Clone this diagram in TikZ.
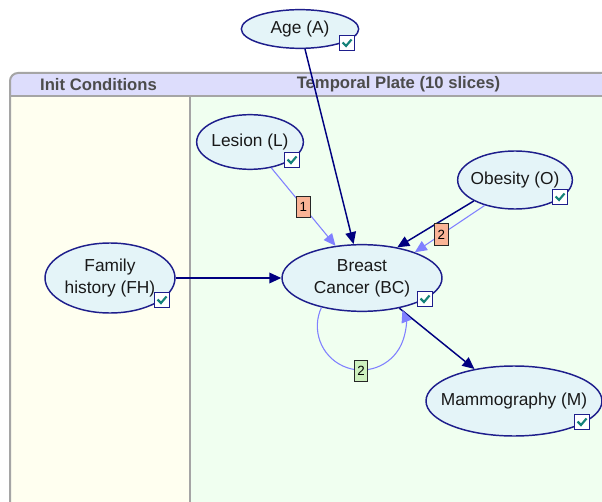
\documentclass[tikz,border=0pt]{standalone}
\usepackage{fontspec}
\setmainfont{Liberation Sans}
\usepackage{xcolor}
\usepackage{tikz}
\usetikzlibrary{positioning, shapes.geometric, arrows.meta}
\definecolor{dbnNavy}{RGB}{0, 0, 128}
\definecolor{dbnLight}{RGB}{128, 128, 255}
\definecolor{dbnEdge}{RGB}{30, 30, 140}
\definecolor{dbnNode}{RGB}{228, 244, 248}
\definecolor{dbnHead}{RGB}{221, 221, 252}
\definecolor{dbnGray}{RGB}{165, 165, 165}
\definecolor{dbnInit}{RGB}{255, 255, 240}
\definecolor{dbnTemp}{RGB}{240, 255, 240}
\definecolor{dbnOrange}{RGB}{250, 180, 150}
\definecolor{dbnGreen}{RGB}{205, 240, 190}
\definecolor{dbnTeal}{RGB}{20, 130, 120}

\begin{document}
\begin{tikzpicture}[x=0.75pt, y=0.75pt,
    var/.style={ellipse, draw=dbnEdge, fill=dbnNode, line width=1.1pt, inner sep=0pt},
    vartext/.style={align=center, inner sep=0pt, text=black!90, font=\fontsize{13}{16.5}\selectfont},
    head/.style={text=black!70, font=\bfseries\fontsize{12.5}{15}\selectfont},
    chk/.style={rectangle, draw=dbnEdge, fill=white, line width=1pt, minimum size=11pt, inner sep=0pt},
    chkmark/.style={dbnTeal, line width=1.6pt},
    dep/.style={dbnNavy, line width=1.1pt, -{Triangle[length=9pt, width=8pt]}},
    tdep/.style={dbnLight, line width=0.8pt, -{Triangle[length=9pt, width=8pt]}},
    lbl/.style={rectangle, draw=black!85, line width=0.75pt, minimum width=10pt, minimum height=16pt, inner sep=0pt, text=black, font=\fontsize{10}{12}\selectfont}]

  % Page
  \fill[white] (0,0) rectangle (602,-502);
  \useasboundingbox (0,0) rectangle (602,-502);

  % Plate
  \fill[dbnInit] (10,-96) rectangle (190,-505);
  \fill[dbnTemp] (190,-96) rectangle (605,-505);
  \fill[dbnHead] (10,-96) [rounded corners=6pt] -- (10,-73) -- (605,-73) [sharp corners] -- (605,-96) -- cycle;
  \draw[dbnGray, line width=1.5pt, rounded corners=6pt] (10,-505) -- (10,-73) -- (605,-73);
  \draw[dbnGray, line width=1.5pt] (10,-96) -- (605,-96);
  \draw[dbnGray, line width=1.5pt] (190,-96) -- (190,-505);
  \node[head] (hInit) at (98.5,-84.5) {Init Conditions};
  \node[head] (hTemp) at (398.5,-84.5) {Temporal Plate (10 slices)};

  % Variables
  \node[var, minimum width=88pt, minimum height=29pt, label={[vartext]center:Age (A)}] (A) at (300,-29) {};
  \node[var, minimum width=80pt, minimum height=41pt, label={[vartext]center:Lesion (L)}] (L) at (250,-142) {};
  \node[var, minimum width=86pt, minimum height=43.5pt, label={[vartext]center:Obesity (O)}] (O) at (515,-180) {};
  \node[var, minimum width=97.5pt, minimum height=52.5pt, label={[vartext]center:Family\\history (FH)}] (FH) at (110,-278) {};
  \node[var, minimum width=120pt, minimum height=50pt, label={[vartext]center:Breast\\Cancer (BC)}] (BC) at (362,-278) {};
  \node[var, minimum width=132pt, minimum height=52.5pt, label={[vartext]center:Mammography (M)}] (M) at (514,-401) {};

  % Arcs
  \draw[dep] (A) -- (BC);
  \draw[tdep] (L) -- node[lbl, fill=dbnOrange] (lblL) {1} (BC);
  \draw[dep] (O.207) -- (BC.41);
  \draw[tdep] (O.220) -- node[lbl, fill=dbnOrange, pos=0.62] (lblO) {2} (BC.26);
  \draw[dep] (FH) -- (BC);
  \draw[dep] (BC) -- (M);
  \draw[tdep] (BC.216) arc[start angle=155, end angle=381, radius=44];
  \node[lbl, fill=dbnGreen] (lblBC) at (361,-371) {2};

  % Check boxes
  \foreach \n/\x/\y in {A/347/43, L/292/160, O/560/197, FH/162/300, BC/425/299, M/582/422} {
    \node[chk] (ck\n) at (\x,-\y) {};
    \draw[chkmark] ([shift={(-4.5,0.5)}]ck\n.center) -- ++(3.5,-3.5) -- ++(5.5,6.5);
  }
\end{tikzpicture}
\end{document}
